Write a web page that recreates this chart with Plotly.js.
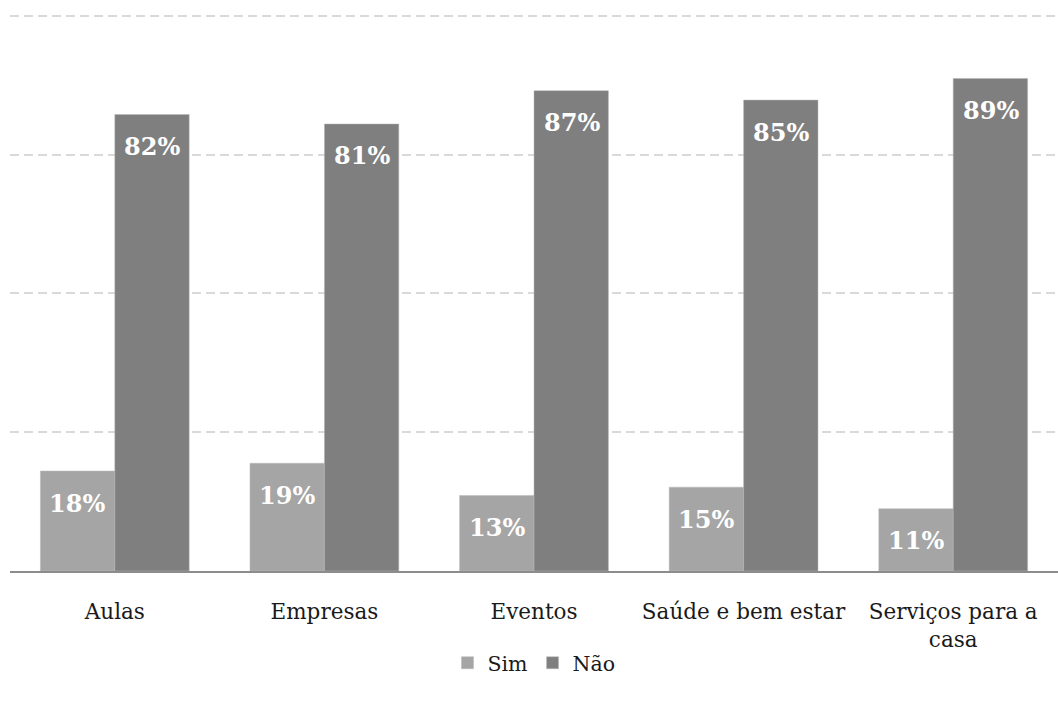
<!DOCTYPE html>
<html>
<head>
<meta charset="utf-8">
<script src="https://cdn.plot.ly/plotly-3.0.1.min.js"></script>
<style>html,body{margin:0;padding:0;background:#fff;}#chart{width:1058px;height:704px;}</style>
</head>
<body>
<div id="chart"></div>
<script>
const categories = ["Aulas", "Empresas", "Eventos", "Saúde e bem estar", "Serviços para a<br>casa"];
const sim = [0.180, 0.194, 0.136, 0.151, 0.112];
const nao = [0.822, 0.805, 0.865, 0.848, 0.887];
const simLabels = ["18%", "19%", "13%", "15%", "11%"];
const naoLabels = ["82%", "81%", "87%", "85%", "89%"];
const seriesNames = ["Sim", "Não"];
const colors = ["#a5a5a5", "#7f7f7f"];
const FONT = "DejaVu Serif, Liberation Serif, serif";

const traces = [sim, nao].map((vals, i) => ({
  type: "bar",
  name: seriesNames[i],
  x: categories,
  y: vals,
  marker: {color: colors[i], line: {color: "#b8b8b8", width: 0.5}},
  hoverinfo: "skip"
}));

const annotations = [];
[[sim, simLabels], [nao, naoLabels]].forEach(([vals, labels], i) => {
  vals.forEach((v, j) => {
    annotations.push({
      x: categories[j], y: v, xref: "x", yref: "y",
      text: "<b>" + labels[j] + "</b>",
      showarrow: false,
      xshift: i === 0 ? -37.5 : 37.5,
      yshift: -32,
      font: {family: FONT, size: 24, color: "#ffffff"}
    });
  });
});

const layout = {
  width: 1058, height: 704,
  margin: {l: 10, r: 0, t: 14, b: 133},
  paper_bgcolor: "#ffffff", plot_bgcolor: "#ffffff",
  barmode: "group", bargap: 0.29, bargroupgap: 0,
  font: {family: FONT, size: 20, color: "#1a1a1a"},
  xaxis: {
    type: "category",
    showgrid: false, zeroline: false,
    showline: true, linecolor: "#8c8c8c", linewidth: 2,
    ticks: "", ticklabelstandoff: 20,
    tickfont: {family: FONT, size: 21.5, color: "#1a1a1a"}
  },
  yaxis: {
    range: [0, 1.003], tickvals: [0.25, 0.5, 0.75, 1.0],
    showticklabels: false, zeroline: false,
    showgrid: true, gridcolor: "#d9d9d9", gridwidth: 2, griddash: "9px,5px",
    fixedrange: true
  },
  legend: {
    orientation: "h", x: 0.5, xanchor: "center", y: -0.165, yanchor: "middle",
    font: {family: FONT, size: 20.5, color: "#1a1a1a"},
    itemwidth: 30, traceorder: "normal"
  },
  annotations: annotations,
  showlegend: true
};

Plotly.newPlot("chart", traces, layout, {displayModeBar: false, staticPlot: true});
</script>
</body>
</html>
